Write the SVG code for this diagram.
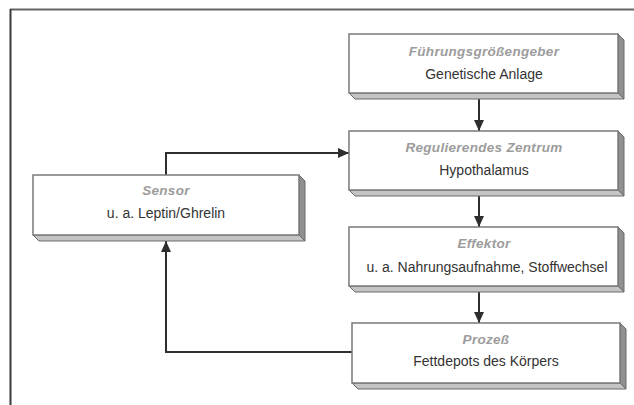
<svg xmlns="http://www.w3.org/2000/svg" width="634" height="405" viewBox="0 0 634 405">
<style>
.face{fill:#fff;stroke:#7a7a7a;stroke-width:1.5}
.bot{fill:#c4c4c4;stroke:#6a6a6a;stroke-width:1}
.side{fill:#909090;stroke:#6a6a6a;stroke-width:1}
.t{font-family:"Liberation Sans",Arial,sans-serif;font-size:13.5px;font-weight:bold;font-style:italic;fill:#9c9c9c;text-anchor:middle;letter-spacing:0.3px}
.s{font-family:"Liberation Sans",Arial,sans-serif;font-size:14px;fill:#333;text-anchor:middle}
.c{fill:none;stroke:#2e2e2e;stroke-width:2}
</style>
<defs>
<marker id="ah" markerUnits="userSpaceOnUse" markerWidth="11" markerHeight="10" refX="11" refY="5" orient="auto">
<path d="M0,0 L11,5 L0,10 z" fill="#2e2e2e"/>
</marker>
</defs>
<rect width="634" height="405" fill="#fff"/>
<line x1="10" y1="9.5" x2="634" y2="9.5" stroke="#666" stroke-width="2"/>
<line x1="10.5" y1="9" x2="10.5" y2="405" stroke="#3a3a3a" stroke-width="2"/>
<g id="connectors">
<line class="c" x1="479" y1="99" x2="479" y2="131" marker-end="url(#ah)"/>
<line class="c" x1="479" y1="196" x2="479" y2="227" marker-end="url(#ah)"/>
<line class="c" x1="479" y1="292" x2="479" y2="323" marker-end="url(#ah)"/>
<path class="c" d="M166,175 V153 H349" marker-end="url(#ah)"/>
<path class="c" d="M352,352 H166 V241" marker-end="url(#ah)"/>
</g>
<g id="fuehrungsgroessengeber">
<polygon class="bot" points="349,93 618,93 624,99 355,99"/>
<polygon class="side" points="618,34 624,40 624,99 618,93"/>
<rect class="face" x="349" y="34" width="269" height="59"/>
<text class="t" x="484" y="56">Führungsgrößengeber</text>
<text class="s" x="484" y="79">Genetische Anlage</text>
</g>
<g id="zentrum">
<polygon class="bot" points="349,190 618,190 624,196 355,196"/>
<polygon class="side" points="618,131 624,137 624,196 618,190"/>
<rect class="face" x="349" y="131" width="269" height="59"/>
<text class="t" x="484" y="152">Regulierendes Zentrum</text>
<text class="s" x="484" y="175">Hypothalamus</text>
</g>
<g id="effektor">
<polygon class="bot" points="349,286 618,286 624,292 355,292"/>
<polygon class="side" points="618,227 624,233 624,292 618,286"/>
<rect class="face" x="349" y="227" width="269" height="59"/>
<text class="t" x="484" y="248">Effektor</text>
<text class="s" x="487" y="272">u. a. Nahrungsaufnahme, Stoffwechsel</text>
</g>
<g id="prozess">
<polygon class="bot" points="352,383 620,383 626,389 358,389"/>
<polygon class="side" points="620,323 626,329 626,389 620,383"/>
<rect class="face" x="352" y="323" width="268" height="60"/>
<text class="t" x="486" y="344">Prozeß</text>
<text class="s" x="486" y="366">Fettdepots des Körpers</text>
</g>
<g id="sensor">
<polygon class="bot" points="33,235 299,235 305,241 39,241"/>
<polygon class="side" points="299,175 305,181 305,241 299,235"/>
<rect class="face" x="33" y="175" width="266" height="60"/>
<text class="t" x="166" y="195">Sensor</text>
<text class="s" x="166" y="218">u. a. Leptin/Ghrelin</text>
</g>
</svg>
